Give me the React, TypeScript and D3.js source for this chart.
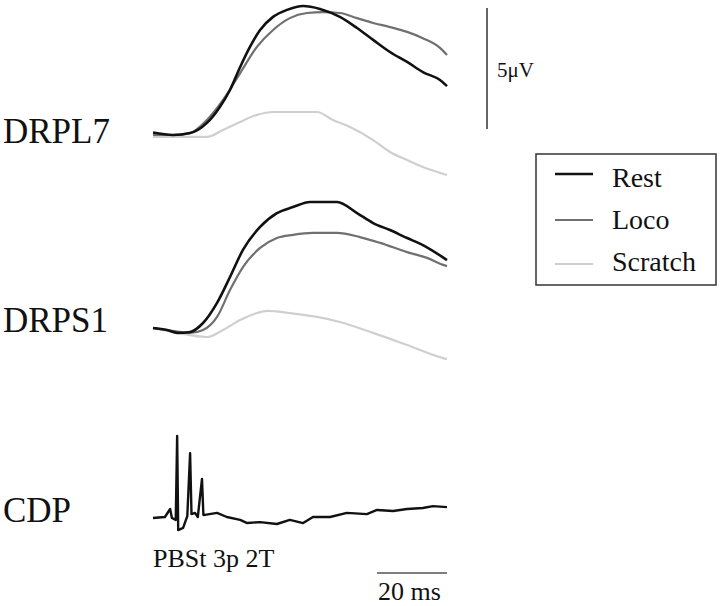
import * as d3 from "d3";

const WIDTH = 720;
const HEIGHT = 606;
const PX_PER_UV = 24.2;

// time (ms) of each sample, per trace
const L7_REST_T = [0, 5.7, 10.6, 15.4, 19.1, 22, 24.9, 27.7, 30.6, 34.3, 38.3, 42.9, 47.7, 53.4, 58.3, 62.9, 67.7, 72.6, 77.1, 82, 84];
const L7_REST_V = [0.1, 0, 0.08, 0.5, 1.16, 1.86, 2.81, 3.64, 4.34, 4.88, 5.17, 5.33, 5.21, 4.88, 4.42, 3.93, 3.43, 3.02, 2.6, 2.27, 2.02];
const L7_LOCO_T = [0, 5.7, 10.6, 15.4, 20, 24.9, 29.7, 34.3, 39.1, 44, 48.6, 53.4, 58.3, 62.9, 67.7, 72.6, 77.1, 82, 84];
const L7_LOCO_V = [0, 0, 0.08, 0.62, 1.45, 2.56, 3.64, 4.34, 4.83, 5.04, 5.08, 5.04, 4.83, 4.63, 4.46, 4.26, 4.0, 3.6, 3.31];
const L7_SCR_T = [0, 5.7, 15.4, 20, 24.9, 29.7, 34.3, 39.1, 46.9, 51.4, 56.3, 62.9, 67.7, 72.6, 77.1, 84];
const L7_SCR_V = [-0.08, -0.08, -0.08, 0.21, 0.54, 0.83, 0.95, 0.95, 0.95, 0.62, 0.33, -0.21, -0.7, -1.03, -1.32, -1.65];

const S1_REST_T = [0, 4, 6.9, 10.6, 14.3, 18.3, 22, 25.7, 30.6, 35.4, 40, 44.9, 52.6, 58.3, 62.9, 67.7, 72.6, 77.1, 84];
const S1_REST_V = [0.08, 0, -0.12, -0.08, 0.29, 1.12, 2.19, 3.31, 4.26, 4.83, 5.08, 5.29, 5.29, 4.83, 4.42, 4.13, 3.8, 3.51, 2.89];
const S1_LOCO_T = [0, 4, 10.6, 14.3, 18.3, 22, 25.7, 30.6, 35.4, 40, 45.7, 52.6, 59.1, 64.9, 72.6, 78.3, 82.9, 84];
const S1_LOCO_V = [0.08, 0, -0.12, 0, 0.54, 1.65, 2.6, 3.39, 3.8, 3.93, 4.01, 4.01, 3.84, 3.6, 3.22, 2.98, 2.69, 2.64];
const S1_SCR_T = [0, 5.7, 10.6, 15.4, 20, 24.9, 29.7, 32.6, 39.1, 46.9, 53.4, 62.9, 72.6, 82.9, 84];
const S1_SCR_V = [0.08, -0.08, -0.21, -0.29, 0, 0.41, 0.7, 0.79, 0.7, 0.54, 0.33, -0.12, -0.62, -1.16, -1.2];

const CDP_T = [0, 3.4, 4.9, 5.4, 6.5, 6.9, 7.2, 8.6, 9.8, 10.6, 11.0, 12, 12.8, 14, 14.4, 18.3, 21.1, 24.9, 26.9, 30.6, 35.4, 39.1, 42.9, 45.7, 50.6, 55.4, 61.1, 64, 68.6, 72.6, 77.1, 80, 84];
const CDP_V = [-0.04, 0, 0.33, -0.04, -0.12, 3.35, -0.54, -0.45, 0.04, 2.64, 0.12, 0.17, 0, 1.57, 0.08, 0.17, 0, -0.12, -0.25, -0.21, -0.29, -0.12, -0.25, 0, 0, 0.17, 0.12, 0.29, 0.25, 0.33, 0.37, 0.45, 0.41];

const SERIES = ["Rest", "Loco", "Scratch"];
const COLORS = ["#111111", "#707070", "#cfcfcf"];
const WIDTHS = [2.6, 2.2, 2.2];

const zip = (t: number[], v: number[]) => t.map((d, i) => ({ t: d, v: v[i] }));

const panels = [
  { name: "DRPL7", baseline: 135, labelY: 143, traces: [zip(L7_REST_T, L7_REST_V), zip(L7_LOCO_T, L7_LOCO_V), zip(L7_SCR_T, L7_SCR_V)] },
  { name: "DRPS1", baseline: 330, labelY: 332, traces: [zip(S1_REST_T, S1_REST_V), zip(S1_LOCO_T, S1_LOCO_V), zip(S1_SCR_T, S1_SCR_V)] },
];

export default function App() {
  const xScale = d3.scaleLinear().domain([0, 84]).range([153, 447]);
  const yFor = (baseline: number) =>
    d3.scaleLinear().domain([0, 5]).range([baseline, baseline - 5 * PX_PER_UV]);

  const y1 = yFor(135);
  const yCdp = yFor(517);

  const smooth = (y: d3.ScaleLinear<number, number>) =>
    d3.line<{ t: number; v: number }>().x((d) => xScale(d.t)).y((d) => y(d.v)).curve(d3.curveMonotoneX);
  const sharp = d3.line<{ t: number; v: number }>().x((d) => xScale(d.t)).y((d) => yCdp(d.v));

  return (
    <svg width={WIDTH} height={HEIGHT} style={{ position: "absolute", left: 0, top: 0, background: "#fff" }}
      fontFamily="'Liberation Serif', 'Times New Roman', serif">
      {panels.map((p) => {
        const y = yFor(p.baseline);
        const line = smooth(y);
        return (
          <g key={p.name}>
            <text x={3} y={p.labelY} fontSize={35} fill="#111">{p.name}</text>
            {/* draw lighter traces first so Rest sits on top */}
            {[2, 1, 0].map((i) => (
              <path key={i} d={line(p.traces[i]) ?? ""} fill="none" stroke={COLORS[i]} strokeWidth={WIDTHS[i]} />
            ))}
          </g>
        );
      })}

      {/* CDP */}
      <text x={3} y={522} fontSize={35} fill="#111">CDP</text>
      <path d={sharp(zip(CDP_T, CDP_V)) ?? ""} fill="none" stroke="#111" strokeWidth={2.4} strokeLinejoin="round" />
      <text x={153} y={567} fontSize={26} fill="#111">PBSt 3p 2T</text>

      {/* 5 µV scale bar */}
      <line x1={487} x2={487} y1={y1(5.25)} y2={y1(0.25)} stroke="#333" strokeWidth={1.5} />
      <text x={497} y={77} fontSize={21} fill="#111">5μV</text>

      {/* 20 ms scale bar */}
      <line x1={xScale(64)} x2={xScale(84)} y1={573} y2={573} stroke="#555" strokeWidth={1.3} />
      <text x={378} y={600} fontSize={26} fill="#111">20 ms</text>

      {/* legend */}
      <rect x={536} y={154} width={180} height={131} fill="none" stroke="#333" strokeWidth={1.5} />
      {SERIES.map((s, i) => {
        const ly = [174, 220, 264][i];
        const ty = [187, 229, 271][i];
        return (
          <g key={s}>
            <line x1={555} x2={593} y1={ly} y2={ly} stroke={COLORS[i]} strokeWidth={WIDTHS[i]} />
            <text x={612} y={ty} fontSize={28} fill="#111">{s}</text>
          </g>
        );
      })}
    </svg>
  );
}
